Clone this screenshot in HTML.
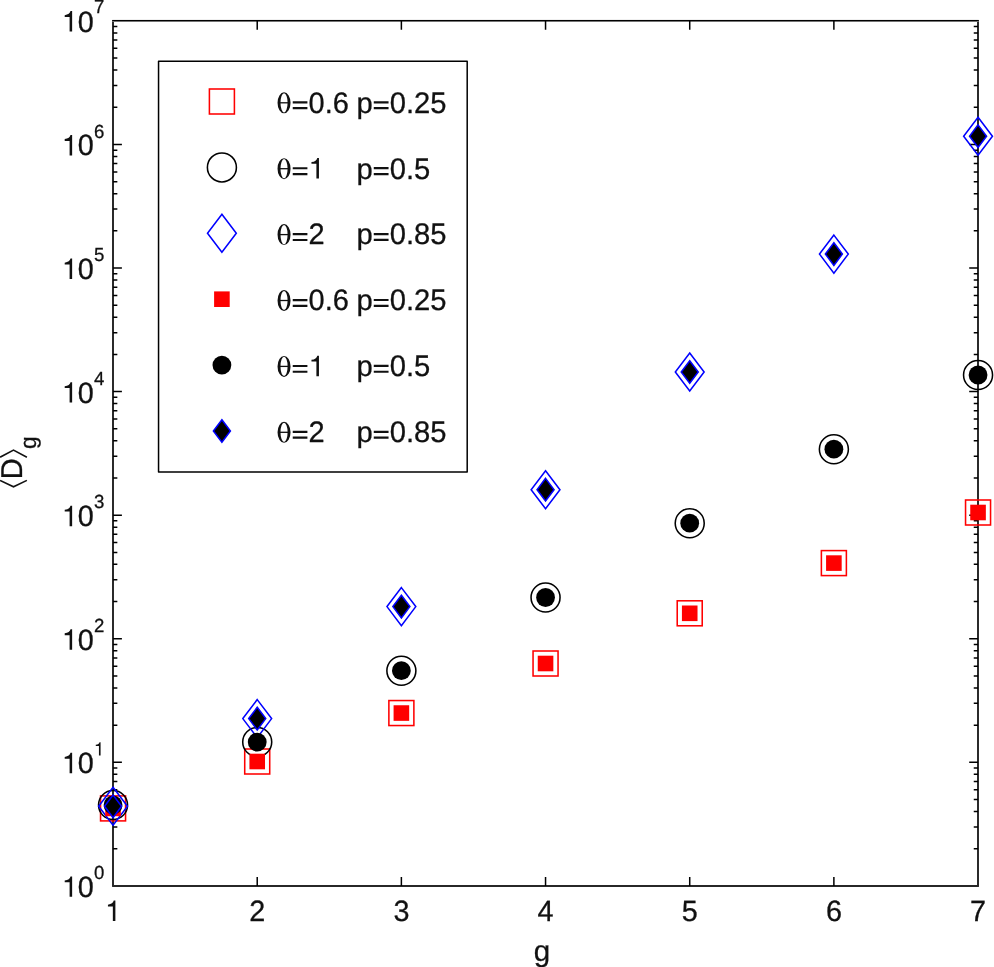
<!DOCTYPE html>
<html><head><meta charset="utf-8"><title>chart</title>
<style>html,body{margin:0;padding:0;background:#fff;overflow:hidden}svg{display:block;will-change:transform}text{font-family:"Liberation Sans",sans-serif;fill:#111;stroke:#111;stroke-width:0.28px;text-rendering:geometricPrecision}</style>
</head><body>
<svg width="994" height="967" viewBox="0 0 994 967">
<rect x="0" y="0" width="994" height="967" fill="#fff"/>
<path fill="#000" d="M112.17 20.4H113.83V886.6H112.17ZM977.17 20.4H978.83V886.6H977.17Z"/>
<rect x="112.4" y="19" width="866.2" height="1" fill="#f0f0f0"/><rect x="112.17" y="20" width="866.66" height="1" fill="#000"/><rect x="112.17" y="21" width="866.66" height="1" fill="#747474"/>
<rect x="112.17" y="885" width="866.66" height="2" fill="#272727"/>
<path d="M113.05 848.7h4.3M978.05 848.7h-4.3M113.05 826.94h4.3M978.05 826.94h-4.3M113.05 811.5h4.3M978.05 811.5h-4.3M113.05 799.53h4.3M978.05 799.53h-4.3M113.05 789.74h4.3M978.05 789.74h-4.3M113.05 781.47h4.3M978.05 781.47h-4.3M113.05 774.3h4.3M978.05 774.3h-4.3M113.05 767.98h4.3M978.05 767.98h-4.3M113.05 762.33h8.85M978.05 762.33h-8.85M113.05 725.13h4.3M978.05 725.13h-4.3M113.05 703.37h4.3M978.05 703.37h-4.3M113.05 687.93h4.3M978.05 687.93h-4.3M113.05 675.96h4.3M978.05 675.96h-4.3M113.05 666.17h4.3M978.05 666.17h-4.3M113.05 657.9h4.3M978.05 657.9h-4.3M113.05 650.73h4.3M978.05 650.73h-4.3M113.05 644.41h4.3M978.05 644.41h-4.3M113.05 638.76h8.85M978.05 638.76h-8.85M113.05 601.56h4.3M978.05 601.56h-4.3M113.05 579.8h4.3M978.05 579.8h-4.3M113.05 564.36h4.3M978.05 564.36h-4.3M113.05 552.38h4.3M978.05 552.38h-4.3M113.05 542.6h4.3M978.05 542.6h-4.3M113.05 534.33h4.3M978.05 534.33h-4.3M113.05 527.16h4.3M978.05 527.16h-4.3M113.05 520.84h4.3M978.05 520.84h-4.3M113.05 515.19h8.85M978.05 515.19h-8.85M113.05 477.99h4.3M978.05 477.99h-4.3M113.05 456.23h4.3M978.05 456.23h-4.3M113.05 440.79h4.3M978.05 440.79h-4.3M113.05 428.81h4.3M978.05 428.81h-4.3M113.05 419.03h4.3M978.05 419.03h-4.3M113.05 410.76h4.3M978.05 410.76h-4.3M113.05 403.59h4.3M978.05 403.59h-4.3M113.05 397.27h4.3M978.05 397.27h-4.3M113.05 391.61h8.85M978.05 391.61h-8.85M113.05 354.42h4.3M978.05 354.42h-4.3M113.05 332.66h4.3M978.05 332.66h-4.3M113.05 317.22h4.3M978.05 317.22h-4.3M113.05 305.24h4.3M978.05 305.24h-4.3M113.05 295.46h4.3M978.05 295.46h-4.3M113.05 287.18h4.3M978.05 287.18h-4.3M113.05 280.02h4.3M978.05 280.02h-4.3M113.05 273.7h4.3M978.05 273.7h-4.3M113.05 268.04h8.85M978.05 268.04h-8.85M113.05 230.84h4.3M978.05 230.84h-4.3M113.05 209.08h4.3M978.05 209.08h-4.3M113.05 193.65h4.3M978.05 193.65h-4.3M113.05 181.67h4.3M978.05 181.67h-4.3M113.05 171.89h4.3M978.05 171.89h-4.3M113.05 163.61h4.3M978.05 163.61h-4.3M113.05 156.45h4.3M978.05 156.45h-4.3M113.05 150.13h4.3M978.05 150.13h-4.3M113.05 144.47h8.85M978.05 144.47h-8.85M113.05 107.27h4.3M978.05 107.27h-4.3M113.05 85.51h4.3M978.05 85.51h-4.3M113.05 70.07h4.3M978.05 70.07h-4.3M113.05 58.1h4.3M978.05 58.1h-4.3M113.05 48.31h4.3M978.05 48.31h-4.3M113.05 40.04h4.3M978.05 40.04h-4.3M113.05 32.88h4.3M978.05 32.88h-4.3M113.05 26.55h4.3M978.05 26.55h-4.3M257.22 885.9v-8.85M257.22 20.9v8.85M401.38 885.9v-8.85M401.38 20.9v8.85M545.55 885.9v-8.85M545.55 20.9v8.85M689.72 885.9v-8.85M689.72 20.9v8.85M833.88 885.9v-8.85M833.88 20.9v8.85" stroke="#000" stroke-width="1.5" fill="none"/>
<g font-size="28.8">
<path transform="translate(61.8 896.85) scale(0.02880 -0.02880)" d="M359 0V709H302C284 640 222 575 101 568V505H271V0Z" fill="#111"/><text transform="translate(77.81 896.85) scale(1 1.02)" font-size="28.8">0</text>
<text transform="translate(93.9 879) scale(1 1.02)" font-size="18.6">0</text>
<path transform="translate(61.8 773.28) scale(0.02880 -0.02880)" d="M359 0V709H302C284 640 222 575 101 568V505H271V0Z" fill="#111"/><text transform="translate(77.81 773.28) scale(1 1.02)" font-size="28.8">0</text>
<path transform="translate(93.9 755.43) scale(0.01860 -0.01860)" d="M359 0V709H302C284 640 222 575 101 568V505H271V0Z" fill="#111"/>
<path transform="translate(61.8 649.71) scale(0.02880 -0.02880)" d="M359 0V709H302C284 640 222 575 101 568V505H271V0Z" fill="#111"/><text transform="translate(77.81 649.71) scale(1 1.02)" font-size="28.8">0</text>
<text transform="translate(93.9 631.86) scale(1 1.02)" font-size="18.6">2</text>
<path transform="translate(61.8 526.14) scale(0.02880 -0.02880)" d="M359 0V709H302C284 640 222 575 101 568V505H271V0Z" fill="#111"/><text transform="translate(77.81 526.14) scale(1 1.02)" font-size="28.8">0</text>
<text transform="translate(93.9 508.29) scale(1 1.02)" font-size="18.6">3</text>
<path transform="translate(61.8 402.56) scale(0.02880 -0.02880)" d="M359 0V709H302C284 640 222 575 101 568V505H271V0Z" fill="#111"/><text transform="translate(77.81 402.56) scale(1 1.02)" font-size="28.8">0</text>
<text transform="translate(93.9 384.71) scale(1 1.02)" font-size="18.6">4</text>
<path transform="translate(61.8 278.99) scale(0.02880 -0.02880)" d="M359 0V709H302C284 640 222 575 101 568V505H271V0Z" fill="#111"/><text transform="translate(77.81 278.99) scale(1 1.02)" font-size="28.8">0</text>
<text transform="translate(93.9 261.14) scale(1 1.02)" font-size="18.6">5</text>
<path transform="translate(61.8 155.42) scale(0.02880 -0.02880)" d="M359 0V709H302C284 640 222 575 101 568V505H271V0Z" fill="#111"/><text transform="translate(77.81 155.42) scale(1 1.02)" font-size="28.8">0</text>
<text transform="translate(93.9 137.57) scale(1 1.02)" font-size="18.6">6</text>
<path transform="translate(61.8 31.5) scale(0.02880 -0.02880)" d="M359 0V709H302C284 640 222 575 101 568V505H271V0Z" fill="#111"/><text transform="translate(77.81 31.5) scale(1 1.02)" font-size="28.8">0</text>
<text transform="translate(93.9 13.37) scale(1 1.02)" font-size="18.6">7</text>
<path transform="translate(105.04 921) scale(0.02880 -0.02880)" d="M359 0V709H302C284 640 222 575 101 568V505H271V0Z" fill="#111"/>
<text transform="translate(249.21 921) scale(1 1.02)" font-size="28.8">2</text>
<text transform="translate(393.38 921) scale(1 1.02)" font-size="28.8">3</text>
<text transform="translate(537.54 921) scale(1 1.02)" font-size="28.8">4</text>
<text transform="translate(681.71 921) scale(1 1.02)" font-size="28.8">5</text>
<text transform="translate(825.88 921) scale(1 1.02)" font-size="28.8">6</text>
<text transform="translate(970.04 921) scale(1 1.02)" font-size="28.8">7</text>
</g>
<text x="542" y="961.2" font-size="29.5" text-anchor="middle">g</text>
<g transform="translate(0 487) rotate(-90)">
<path d="M6.6 0.1L0.2 13.5L6.6 26.9M29.8 0.1L36.9 13.5L29.8 26.9" stroke="#111" stroke-width="1.6" fill="none"/>
<text transform="translate(7.85 21.9) scale(1 1.04)" font-size="28.9">D</text>
<text x="38.0" y="35.8" font-size="22.7">g</text>
</g>
<g>
<rect x="100.55" y="795.9" width="25" height="25" fill="none" stroke="#f00" stroke-width="1.55"/>
<rect x="244.72" y="749" width="25" height="25" fill="none" stroke="#f00" stroke-width="1.55"/>
<rect x="388.88" y="700.55" width="25" height="25" fill="none" stroke="#f00" stroke-width="1.55"/>
<rect x="533.05" y="651" width="25" height="25" fill="none" stroke="#f00" stroke-width="1.55"/>
<rect x="677.22" y="600.8" width="25" height="25" fill="none" stroke="#f00" stroke-width="1.55"/>
<rect x="821.38" y="550.6" width="25" height="25" fill="none" stroke="#f00" stroke-width="1.55"/>
<rect x="965.55" y="500" width="25" height="25" fill="none" stroke="#f00" stroke-width="1.55"/>
<circle cx="113.05" cy="805" r="14.5" fill="none" stroke="#000" stroke-width="1.55"/>
<circle cx="257.22" cy="742.05" r="14.5" fill="none" stroke="#000" stroke-width="1.55"/>
<circle cx="401.38" cy="670.7" r="14.5" fill="none" stroke="#000" stroke-width="1.55"/>
<circle cx="545.55" cy="597.5" r="14.5" fill="none" stroke="#000" stroke-width="1.55"/>
<circle cx="689.72" cy="523.2" r="14.5" fill="none" stroke="#000" stroke-width="1.55"/>
<circle cx="833.88" cy="449.2" r="14.5" fill="none" stroke="#000" stroke-width="1.55"/>
<circle cx="978.05" cy="375" r="14.5" fill="none" stroke="#000" stroke-width="1.55"/>
<path d="M113.05 787.3L127.45 806.3L113.05 825.3L98.65 806.3Z" fill="none" stroke="#00f" stroke-width="1.55" stroke-miterlimit="10"/>
<path d="M257.22 699.6L271.62 718.6L257.22 737.6L242.82 718.6Z" fill="none" stroke="#00f" stroke-width="1.55" stroke-miterlimit="10"/>
<path d="M401.38 587.6L415.78 606.6L401.38 625.6L386.98 606.6Z" fill="none" stroke="#00f" stroke-width="1.55" stroke-miterlimit="10"/>
<path d="M545.55 470.7L559.95 489.7L545.55 508.7L531.15 489.7Z" fill="none" stroke="#00f" stroke-width="1.55" stroke-miterlimit="10"/>
<path d="M689.72 353L704.12 372L689.72 391L675.32 372Z" fill="none" stroke="#00f" stroke-width="1.55" stroke-miterlimit="10"/>
<path d="M833.88 235.1L848.28 254.1L833.88 273.1L819.48 254.1Z" fill="none" stroke="#00f" stroke-width="1.55" stroke-miterlimit="10"/>
<path d="M978.05 117.2L992.45 136.2L978.05 155.2L963.65 136.2Z" fill="none" stroke="#00f" stroke-width="1.55" stroke-miterlimit="10"/>
<rect x="105.25" y="800.6" width="15.6" height="15.6" fill="#f00"/>
<rect x="249.42" y="753.7" width="15.6" height="15.6" fill="#f00"/>
<rect x="393.58" y="705.25" width="15.6" height="15.6" fill="#f00"/>
<rect x="537.75" y="655.7" width="15.6" height="15.6" fill="#f00"/>
<rect x="681.92" y="605.5" width="15.6" height="15.6" fill="#f00"/>
<rect x="826.08" y="555.3" width="15.6" height="15.6" fill="#f00"/>
<rect x="970.25" y="504.7" width="15.6" height="15.6" fill="#f00"/>
<circle cx="113.05" cy="805" r="9.4" fill="#000"/>
<circle cx="257.22" cy="742.05" r="9.4" fill="#000"/>
<circle cx="401.38" cy="670.7" r="9.4" fill="#000"/>
<circle cx="545.55" cy="597.5" r="9.4" fill="#000"/>
<circle cx="689.72" cy="523.2" r="9.4" fill="#000"/>
<circle cx="833.88" cy="449.2" r="9.4" fill="#000"/>
<circle cx="978.05" cy="375" r="9.4" fill="#000"/>
<path d="M113.05 795L121.55 806.3L113.05 817.6L104.55 806.3Z" fill="#000" stroke="#00f" stroke-width="1.55" stroke-miterlimit="10"/>
<path d="M257.22 707.3L265.72 718.6L257.22 729.9L248.72 718.6Z" fill="#000" stroke="#00f" stroke-width="1.55" stroke-miterlimit="10"/>
<path d="M401.38 595.3L409.88 606.6L401.38 617.9L392.88 606.6Z" fill="#000" stroke="#00f" stroke-width="1.55" stroke-miterlimit="10"/>
<path d="M545.55 478.4L554.05 489.7L545.55 501L537.05 489.7Z" fill="#000" stroke="#00f" stroke-width="1.55" stroke-miterlimit="10"/>
<path d="M689.72 360.7L698.22 372L689.72 383.3L681.22 372Z" fill="#000" stroke="#00f" stroke-width="1.55" stroke-miterlimit="10"/>
<path d="M833.88 242.8L842.38 254.1L833.88 265.4L825.38 254.1Z" fill="#000" stroke="#00f" stroke-width="1.55" stroke-miterlimit="10"/>
<path d="M978.05 124.9L986.55 136.2L978.05 147.5L969.55 136.2Z" fill="#000" stroke="#00f" stroke-width="1.55" stroke-miterlimit="10"/>
</g>
<rect x="158.55" y="61.3" width="308.65" height="410.6" fill="#fff" stroke="#000" stroke-width="1.5" stroke-linejoin="round"/>
<rect x="209.4" y="89" width="25" height="25" fill="none" stroke="#f00" stroke-width="1.55"/>
<circle cx="221.9" cy="167.4" r="14.5" fill="none" stroke="#000" stroke-width="1.55"/>
<path d="M221.9 214.3L236.3 233.3L221.9 252.3L207.5 233.3Z" fill="none" stroke="#00f" stroke-width="1.55" stroke-miterlimit="10"/>
<rect x="214.1" y="291.4" width="15.6" height="15.6" fill="#f00"/>
<circle cx="221.9" cy="365.1" r="9.4" fill="#000"/>
<path d="M221.9 419.7L230.4 431L221.9 442.3L213.4 431Z" fill="#000" stroke="#00f" stroke-width="1.55" stroke-miterlimit="10"/>
<g font-size="28.8">
<path fill-rule="evenodd" fill="#111" d="M277.54 102.8a6.5 10.5 0 1 0 13 0a6.5 10.5 0 1 0 -13 0ZM280.49 102.8a3.55 9.6 0 1 0 7.1 0a3.55 9.6 0 1 0 -7.1 0Z"/><rect x="279.74" y="102.15" width="8.6" height="1.3" fill="#111"/><path fill="#111" d="M292.74 101.29h14.67v2.18h-14.67ZM292.74 107.09h14.67v2.18h-14.67Z"/><text transform="translate(308.54 112.6) scale(1 1.02)" font-size="29.0">0.6</text>
<text x="356.4" y="112.6" font-size="29.2">p</text><path fill="#111" d="M373.77 101.21h14.78v2.19h-14.78ZM373.77 107.05h14.78v2.19h-14.78Z"/><text transform="translate(389.69 112.6) scale(1 1.02)" font-size="29.2">0.25</text>
<path fill-rule="evenodd" fill="#111" d="M277.54 168.7a6.5 10.5 0 1 0 13 0a6.5 10.5 0 1 0 -13 0ZM280.49 168.7a3.55 9.6 0 1 0 7.1 0a3.55 9.6 0 1 0 -7.1 0Z"/><rect x="279.74" y="168.05" width="8.6" height="1.3" fill="#111"/><path fill="#111" d="M292.74 167.19h14.67v2.18h-14.67ZM292.74 172.99h14.67v2.18h-14.67Z"/><path transform="translate(308.54 178.5) scale(0.02900 -0.02900)" d="M359 0V709H302C284 640 222 575 101 568V505H271V0Z" fill="#111"/>
<text x="356.4" y="178.5" font-size="29.2">p</text><path fill="#111" d="M373.77 167.11h14.78v2.19h-14.78ZM373.77 172.95h14.78v2.19h-14.78Z"/><text transform="translate(389.69 178.5) scale(1 1.02)" font-size="29.2">0.5</text>
<path fill-rule="evenodd" fill="#111" d="M277.54 234.6a6.5 10.5 0 1 0 13 0a6.5 10.5 0 1 0 -13 0ZM280.49 234.6a3.55 9.6 0 1 0 7.1 0a3.55 9.6 0 1 0 -7.1 0Z"/><rect x="279.74" y="233.95" width="8.6" height="1.3" fill="#111"/><path fill="#111" d="M292.74 233.09h14.67v2.18h-14.67ZM292.74 238.89h14.67v2.18h-14.67Z"/><text transform="translate(308.54 244.4) scale(1 1.02)" font-size="29.0">2</text>
<text x="356.4" y="244.4" font-size="29.2">p</text><path fill="#111" d="M373.77 233.01h14.78v2.19h-14.78ZM373.77 238.85h14.78v2.19h-14.78Z"/><text transform="translate(389.69 244.4) scale(1 1.02)" font-size="29.2">0.85</text>
<path fill-rule="evenodd" fill="#111" d="M277.54 300.5a6.5 10.5 0 1 0 13 0a6.5 10.5 0 1 0 -13 0ZM280.49 300.5a3.55 9.6 0 1 0 7.1 0a3.55 9.6 0 1 0 -7.1 0Z"/><rect x="279.74" y="299.85" width="8.6" height="1.3" fill="#111"/><path fill="#111" d="M292.74 298.99h14.67v2.18h-14.67ZM292.74 304.79h14.67v2.18h-14.67Z"/><text transform="translate(308.54 310.3) scale(1 1.02)" font-size="29.0">0.6</text>
<text x="356.4" y="310.3" font-size="29.2">p</text><path fill="#111" d="M373.77 298.91h14.78v2.19h-14.78ZM373.77 304.75h14.78v2.19h-14.78Z"/><text transform="translate(389.69 310.3) scale(1 1.02)" font-size="29.2">0.25</text>
<path fill-rule="evenodd" fill="#111" d="M277.54 366.4a6.5 10.5 0 1 0 13 0a6.5 10.5 0 1 0 -13 0ZM280.49 366.4a3.55 9.6 0 1 0 7.1 0a3.55 9.6 0 1 0 -7.1 0Z"/><rect x="279.74" y="365.75" width="8.6" height="1.3" fill="#111"/><path fill="#111" d="M292.74 364.89h14.67v2.18h-14.67ZM292.74 370.69h14.67v2.18h-14.67Z"/><path transform="translate(308.54 376.2) scale(0.02900 -0.02900)" d="M359 0V709H302C284 640 222 575 101 568V505H271V0Z" fill="#111"/>
<text x="356.4" y="376.2" font-size="29.2">p</text><path fill="#111" d="M373.77 364.81h14.78v2.19h-14.78ZM373.77 370.65h14.78v2.19h-14.78Z"/><text transform="translate(389.69 376.2) scale(1 1.02)" font-size="29.2">0.5</text>
<path fill-rule="evenodd" fill="#111" d="M277.54 432.3a6.5 10.5 0 1 0 13 0a6.5 10.5 0 1 0 -13 0ZM280.49 432.3a3.55 9.6 0 1 0 7.1 0a3.55 9.6 0 1 0 -7.1 0Z"/><rect x="279.74" y="431.65" width="8.6" height="1.3" fill="#111"/><path fill="#111" d="M292.74 430.79h14.67v2.18h-14.67ZM292.74 436.59h14.67v2.18h-14.67Z"/><text transform="translate(308.54 442.1) scale(1 1.02)" font-size="29.0">2</text>
<text x="356.4" y="442.1" font-size="29.2">p</text><path fill="#111" d="M373.77 430.71h14.78v2.19h-14.78ZM373.77 436.55h14.78v2.19h-14.78Z"/><text transform="translate(389.69 442.1) scale(1 1.02)" font-size="29.2">0.85</text>
</g>
</svg></body></html>
